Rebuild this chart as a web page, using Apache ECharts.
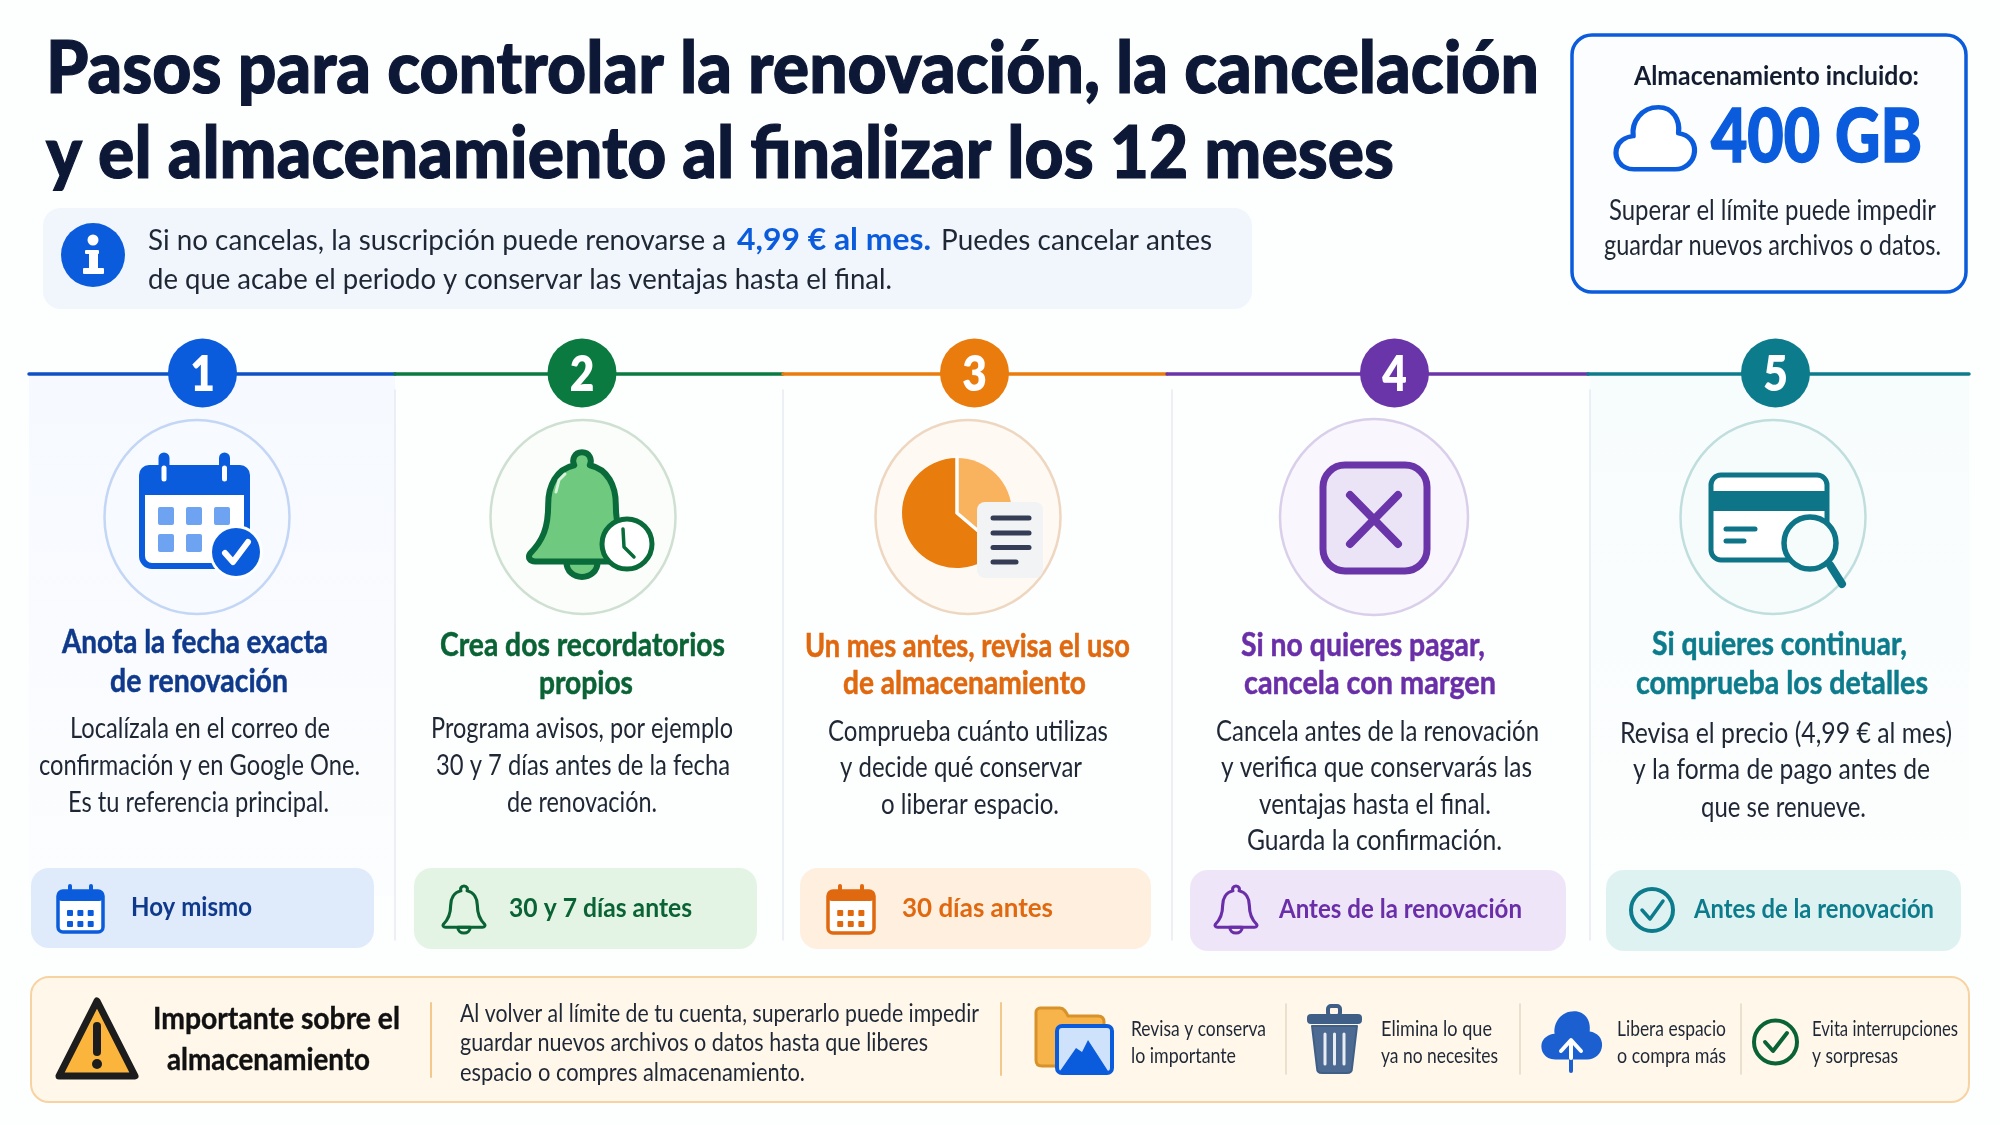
<!DOCTYPE html>
<html>
<head>
<meta charset="utf-8">
<style>html,body{margin:0;background:#fff}#main{width:2000px;height:1125px}</style>
<script src="https://cdn.jsdelivr.net/npm/echarts@6/dist/echarts.min.js"></script>
</head>
<body>
<div id="main"></div>
<script>
// texts
const titleLines = ['Pasos para controlar la renovación, la cancelación', 'y el almacenamiento al finalizar los 12 meses']
const infoParts = ['Si no cancelas, la suscripción puede renovarse a', '4,99 € al mes.', 'Puedes cancelar antes', 'de que acabe el periodo y conservar las ventajas hasta el final.']
const storageTexts = ['Almacenamiento incluido:', '400 GB', 'Superar el límite puede impedir', 'guardar nuevos archivos o datos.']
const stepNumbers = ['1', '2', '3', '4', '5']
const stepTitles = [
    ['Anota la fecha exacta', 'de renovación'],
    ['Crea dos recordatorios', 'propios'],
    ['Un mes antes, revisa el uso', 'de almacenamiento'],
    ['Si no quieres pagar,', 'cancela con margen'],
    ['Si quieres continuar,', 'comprueba los detalles']
]
const stepBodies = [
    ['Localízala en el correo de', 'confirmación y en Google One.', 'Es tu referencia principal.'],
    ['Programa avisos, por ejemplo', '30 y 7 días antes de la fecha', 'de renovación.'],
    ['Comprueba cuánto utilizas', 'y decide qué conservar', 'o liberar espacio.'],
    ['Cancela antes de la renovación', 'y verifica que conservarás las', 'ventajas hasta el final.', 'Guarda la confirmación.'],
    ['Revisa el precio (4,99 € al mes)', 'y la forma de pago antes de', 'que se renueve.']
]
const badgeLabels = ['Hoy mismo', '30 y 7 días antes', '30 días antes', 'Antes de la renovación', 'Antes de la renovación']
const noticeTitle = ['Importante sobre el', 'almacenamiento']
const noticeBody = ['Al volver al límite de tu cuenta, superarlo puede impedir', 'guardar nuevos archivos o datos hasta que liberes', 'espacio o compres almacenamiento.']
const noticeTips = [
    ['Revisa y conserva', 'lo importante'],
    ['Elimina lo que', 'ya no necesites'],
    ['Libera espacio', 'o compra más'],
    ['Evita interrupciones', 'y sorpresas']
]

// layout, in page pixels
const stepColors = ['#0d50c4', '#0a7a40', '#e97c0c', '#6a35a8', '#0c7c8c']
const titleColors = ['#0f3a8c', '#0a6335', '#e0680f', '#6a2fa8', '#0c7c8c']
const softFills = ['#dfeafb', '#e4f4e4', '#feefdf', '#eee6f8', '#dff2f2']
const lineStops = [29, 395, 783, 1167, 1588, 1969]
const numberX = [202.5, 582, 974.5, 1394.5, 1775.5]
const ringX = [197, 583, 968, 1374, 1773]
const titleSpans = [[[62, 328, 653], [110, 288, 692]], [[440, 725, 656], [539, 633, 694]], [[805, 1130, 657], [843, 1086, 694]], [[1241, 1485, 656], [1244, 1496, 694]], [[1652, 1907, 655], [1636, 1928, 694]]]
const bodySpans = [
    [[70, 330, 738], [39, 360, 775], [68, 329, 812]],
    [[431, 733, 738], [436, 730, 775], [507, 657, 812]],
    [[828, 1108, 741], [840, 1082, 777], [881, 1059, 814]],
    [[1216, 1539, 741], [1221, 1532, 777], [1259, 1491, 814], [1247, 1502, 850]],
    [[1620, 1952, 743], [1633, 1930, 779], [1701, 1866, 817]]
]
const badgeBoxes = [[31, 374, 868, 948], [414, 757, 868, 949], [800, 1151, 868, 949], [1190, 1566, 870, 951], [1606, 1961, 870, 951]]
const badgeSpans = [[131, 252, 916], [509, 692, 917], [902, 1053, 917], [1279, 1522, 918], [1694, 1934, 918]]
const tipSpans = [[[1131, 1266], [1131, 1236]], [[1381, 1492], [1381, 1498]], [[1617, 1726], [1617, 1726]], [[1812, 1958], [1812, 1898]]]

const FONT = 'Lato'
const INK = '#1f2735'
const BLUE = '#0b5cdc'
const els = []
const ctx = document.createElement('canvas').getContext('2d')

function shape(type, sh, style, extra) {
    els.push(Object.assign({ type: type, shape: sh, style: style, silent: true }, extra || {}))
}
function rect(x0, y0, x1, y1, r, fill, stroke, lw) {
    shape('rect', { x: x0, y: y0, width: x1 - x0, height: y1 - y0, r: r }, { fill: fill, stroke: stroke || null, lineWidth: lw || 0 })
}
function line(x0, y0, x1, y1, color, lw) {
    shape('line', { x1: x0, y1: y0, x2: x1, y2: y1 }, { stroke: color, lineWidth: lw, lineCap: 'round' })
}
function poly(points, color, lw) {
    shape('polyline', { points: points }, { stroke: color, lineWidth: lw, lineCap: 'round', lineJoin: 'round', fill: null })
}
function circle(cx, cy, r, fill, stroke, lw) {
    shape('circle', { cx: cx, cy: cy, r: r }, { fill: fill, stroke: stroke || null, lineWidth: lw || 0 })
}
function oval(cx, cy, rx, ry, fill, stroke, lw) {
    shape('ellipse', { cx: cx, cy: cy, rx: rx, ry: ry }, { fill: fill, stroke: stroke || null, lineWidth: lw || 0 })
}
// the graphic component has no path type, so icon outlines are registered as shapes
let pathCount = 0
function path(d, x, y, sx, sy, fill, stroke, lw) {
    const name = 'iconPath' + (pathCount++)
    echarts.graphic.registerShape(name, echarts.graphic.extendPath(d, {}))
    shape(name, {}, { fill: fill, stroke: stroke || null, lineWidth: (lw || 0) / Math.min(sx, sy), lineJoin: 'round', lineCap: 'round' }, { x: x, y: y, scaleX: sx, scaleY: sy })
}
// puts a line on its baseline and fits it between x0 and x1 like in the picture
// heavy adds a thin outline, the picture's bold is thicker than the installed one
function text(str, x0, x1, base, size, weight, color, heavy) {
    const font = weight + ' ' + size + 'px ' + FONT
    ctx.font = font
    ctx.textBaseline = 'alphabetic'
    const a = ctx.measureText(str).fontBoundingBoxAscent
    const w = ctx.measureText(str).width
    ctx.textBaseline = 'middle'
    const m = ctx.measureText(str).fontBoundingBoxAscent
    const style = { text: str, font: font, fill: color, align: 'left', verticalAlign: 'middle' }
    if (heavy) {
        style.stroke = color
        style.lineWidth = heavy
    }
    els.push({ type: 'text', x: x0, y: base - (a - m), scaleX: (x1 - x0) / w, silent: true, style: style })
}

const CLOUD = 'M25 92C8 92 2 76 4 64C6 54 14 47 24 46C22 26 34 6 54 6C72 6 80 24 78 42C90 44 98 54 97 68C96 82 86 92 74 92Z'
const BELL = 'M50 4C44 4 42 10 44 14C30 17 24 30 24 44C24 62 20 72 10 82C8 85 10 88 14 88L86 88C90 88 92 85 90 82C80 72 76 62 76 44C76 30 70 17 56 14C58 10 56 4 50 4Z'
const CLAPPER = 'M38 88C38 104 62 104 62 88Z'

function smallCalendar(x0, y0, x1, y1, color) {
    rect(x0, y0 + 5, x1, y1, 5, '#fff', color, 3.5)
    rect(x0, y0 + 5, x1, y0 + 15, 4, color)
    line(x0 + 12, y0, x0 + 12, y0 + 7, color, 4)
    line(x1 - 12, y0, x1 - 12, y0 + 7, color, 4)
    const w = x1 - x0
    for (let i = 0; i < 3; i++) for (let j = 0; j < 2; j++) {
        rect(x0 + w * 0.2 + i * w * 0.23, y0 + 24 + j * 11, x0 + w * 0.2 + i * w * 0.23 + 6, y0 + 30 + j * 11, 1, color)
    }
}
function smallBell(cx, y0, y1, color) {
    const sy = (y1 - y0) / 96, sx = sy * 1.05
    path(CLAPPER, cx - 50 * sx, y0 - 4 * sy, sx, sy, 'none', color, 3)
    path(BELL, cx - 50 * sx, y0 - 4 * sy, sx, sy, 'none', color, 3)
}

// header
rect(0, 0, 2000, 1125, 0, '#fdfefe')
text(titleLines[0], 46, 1539, 93, 72, 900, '#0d1836', 1.2)
text(titleLines[1], 46, 1394, 178, 72, 900, '#0d1836', 1.2)

rect(43, 208, 1252, 309, 18, '#f1f6fd')
circle(93, 255, 32, BLUE)
circle(93, 240, 5.5, '#fff')
rect(85, 250, 99, 254, 1, '#fff')
rect(89, 250, 98, 270, 0, '#fff')
rect(83, 268, 104, 274, 1, '#fff')
text(infoParts[0], 148, 726, 250, 29, 400, INK)
text(infoParts[1], 737, 931, 250, 30, 700, BLUE)
text(infoParts[2], 941, 1212, 250, 29, 400, INK)
text(infoParts[3], 148, 892, 289, 29, 400, INK)

rect(1572, 35, 1966, 292, 20, '#fbfdff', BLUE, 3.5)
text(storageTexts[0], 1634, 1919, 85, 27, 700, '#141c30')
path(CLOUD, 1613, 103, 0.84, 0.72, '#fff', BLUE, 4.5)
text(storageTexts[1], 1711, 1922, 162, 74, 900, BLUE, 1.5)
text(storageTexts[2], 1609, 1936, 220, 28, 400, INK)
text(storageTexts[3], 1604, 1941, 255, 28, 400, INK)

// columns tint, dividers, timeline
shape('rect', { x: 29, y: 376, width: 366, height: 520 }, { fill: new echarts.graphic.LinearGradient(0, 0, 0, 1, [{ offset: 0, color: '#f6f9ff' }, { offset: 1, color: '#fcfdfe' }]) })
shape('rect', { x: 1590, y: 376, width: 379, height: 520 }, { fill: new echarts.graphic.LinearGradient(0, 0, 0, 1, [{ offset: 0, color: '#f7fcfd' }, { offset: 1, color: '#fdfefe' }]) })
;[395, 783, 1172, 1590].forEach(x => line(x, 390, x, 940, '#e6ebf2', 1.5))
stepNumbers.forEach((n, i) => {
    line(lineStops[i], 374, lineStops[i + 1], 374, stepColors[i], 3.5)
})
stepNumbers.forEach((n, i) => {
    circle(numberX[i], 373, 34.5, i === 0 ? BLUE : stepColors[i])
    ctx.font = '800 50px ' + FONT
    const w = ctx.measureText(n).width * 0.85
    text(n, numberX[i] - w / 2, numberX[i] + w / 2, 391, 50, 800, '#fff')
})

// icon rings
const ringFills = ['#f7faff', '#fbfdfb', '#fff9f3', '#f9f6fd', '#f6fcfc']
const ringLines = ['#c3d6f5', '#cfe0d2', '#eed7c0', '#dacfea', '#c0dede']
ringX.forEach((x, i) => oval(x, 517, i === 3 ? 94 : 92.5, i === 3 ? 98 : 97, ringFills[i], ringLines[i], 2.5))

// 1 calendar
rect(142, 470, 247, 566, 10, '#fff', BLUE, 6)
rect(139, 465, 250, 495, 10, BLUE)
rect(139, 485, 250, 495, 0, BLUE)
;[164, 224.5].forEach(x => { line(x, 458, x, 480, BLUE, 11); line(x, 468, x, 479, '#fff', 5) })
;[166, 194, 222].forEach(x => [516, 543].forEach(y => {
    if (!(x === 222 && y === 543)) rect(x - 8, y - 9, x + 8, y + 9, 2, '#6ea3f2')
}))
circle(236, 552, 27, '#fff')
circle(236, 552, 24, BLUE)
poly([[225, 553], [233, 562], [248, 542]], '#fff', 6)

// 2 bell with clock
path(CLAPPER, 517, 447, 1.3, 1.3, '#6fc97f', '#0a6b3a', 6)
path(BELL, 517, 447, 1.3, 1.3, '#6fc97f', '#0a6b3a', 6)
poly([[556, 492], [559, 480], [565, 474]], '#d8f2dc', 3)
circle(627, 544, 25, '#fff', '#0a6b3a', 5)
poly([[623, 529], [624, 547], [634, 557]], '#0a6b3a', 3.5)

// 3 pie and document
shape('sector', { cx: 957, cy: 513, r0: 0, r: 55, startAngle: -Math.PI / 2, endAngle: Math.PI * 40 / 180, clockwise: true }, { fill: '#f9b25e' })
shape('sector', { cx: 957, cy: 513, r0: 0, r: 55, startAngle: Math.PI * 40 / 180, endAngle: Math.PI * 1.5, clockwise: true }, { fill: '#e87c0c' })
poly([[957, 457], [957, 513], [990, 541]], '#fff', 3.5)
rect(977, 502, 1043, 578, 8, '#f1f3f5')
;[518, 533, 547.5].forEach(y => line(993, y, 1029, y, '#343d55', 5))
line(993, 562, 1016, 562, '#343d55', 5)

// 4 cancel box
rect(1323, 465, 1427, 571, 22, '#ebe4f7', '#6a35a8', 7)
line(1350, 495, 1398, 544, '#6a35a8', 8)
line(1398, 495, 1350, 544, '#6a35a8', 8)

// 5 card and magnifier
rect(1711, 475, 1827, 560, 10, '#fff', '#0e7488', 5)
rect(1709, 491, 1829, 511, 0, '#0e7488')
line(1726, 529, 1755, 529, '#0e7488', 5)
line(1726, 541, 1744, 541, '#0e7488', 5)
circle(1810, 543, 26, '#f6fcfc', '#0e7488', 5.5)
line(1830, 565, 1842, 584, '#0e7488', 8)

// step texts
stepTitles.forEach((lines, i) => lines.forEach((s, j) => {
    const b = titleSpans[i][j]
    text(s, b[0], b[1], b[2], 32, 700, titleColors[i], 0.5)
}))
stepBodies.forEach((lines, i) => lines.forEach((s, j) => {
    const b = bodySpans[i][j]
    text(s, b[0], b[1], b[2], 28, 400, INK)
}))

// badges
badgeLabels.forEach((s, i) => {
    const b = badgeBoxes[i], sp = badgeSpans[i]
    rect(b[0], b[2], b[1], b[3], 18, softFills[i])
    text(s, sp[0], sp[1], sp[2], 27, 700, titleColors[i])
})
smallCalendar(58, 886, 103, 932, BLUE)
smallBell(464, 886, 933, titleColors[1])
smallCalendar(828, 886, 874, 933, titleColors[2])
smallBell(1236, 886, 933, titleColors[3])
circle(1652, 910, 21, 'none', titleColors[4], 4)
poly([[1642, 910], [1650, 919], [1663, 901]], titleColors[4], 3.5)

// notice panel
rect(31, 977, 1969, 1102, 18, '#fef7ea', '#f7d3a2', 2)
shape('polygon', { points: [[97, 1001], [135, 1076], [59, 1076]] }, { fill: '#fbb53c', stroke: '#1d1d1d', lineWidth: 7, lineJoin: 'round' })
line(97, 1026, 97, 1052, '#1d1d1d', 8)
circle(97, 1064, 5, '#1d1d1d')
text(noticeTitle[0], 153, 400, 1029, 31, 700, '#111', 0.4)
text(noticeTitle[1], 167, 370, 1070, 31, 700, '#111', 0.4)
line(431, 1003, 431, 1077, '#f2c88c', 2)
text(noticeBody[0], 460, 979, 1022, 25, 400, INK)
text(noticeBody[1], 460, 928, 1051, 25, 400, INK)
text(noticeBody[2], 460, 805, 1081, 25, 400, INK)
line(1001, 1003, 1001, 1075, '#f2c88c', 2)

// folder with photo
path('M1040 1008L1060 1008C1064 1008 1066 1012 1068 1016L1098 1016C1102 1016 1104 1018 1104 1022L1104 1066L1042 1066C1038 1066 1036 1064 1036 1060L1036 1012C1036 1010 1038 1008 1040 1008Z', 0, 0, 1, 1, '#f6b44a', '#d8922a', 3)
rect(1057, 1026, 1112, 1073, 5, '#cfe2fb', BLUE, 4)
shape('polygon', { points: [[1060, 1071], [1076, 1048], [1082, 1052], [1088, 1040], [1108, 1071]] }, { fill: BLUE })

// trash can
rect(1328, 1006, 1340, 1016, 3, 'none', '#3f5f86', 4)
rect(1307, 1014, 1362, 1024, 4, '#3f5f86')
path('M1312 1026L1357 1026L1352 1068C1352 1071 1350 1073 1347 1073L1322 1073C1319 1073 1317 1071 1317 1068Z', 0, 0, 1, 1, '#4d6a92', '#3f5f86', 2)
;[1325, 1334.5, 1344].forEach(x => line(x, 1034, x, 1064, '#e8edf4', 3))

// cloud with arrow
path(CLOUD, 1539, 1008, 0.65, 0.56, '#1c5fd0')
line(1571, 1060, 1571, 1071, '#1c5fd0', 4)
line(1571, 1044, 1571, 1058, '#fff', 4)
poly([[1561, 1051], [1571, 1040], [1581, 1051]], '#fff', 4)

// check
circle(1775.5, 1042, 21.5, 'none', '#0a6335', 4)
poly([[1765, 1042], [1773, 1051], [1787, 1033]], '#0a6335', 4)

;[1286, 1520, 1741].forEach(x => line(x, 1004, x, 1074, '#e4d8c4', 1.5))
noticeTips.forEach((lines, i) => lines.forEach((s, j) => {
    const b = tipSpans[i][j]
    text(s, b[0], b[1], j === 0 ? 1036 : 1063, 21, 400, INK)
}))

const myChart = echarts.init(document.getElementById('main'), null, { renderer: 'canvas' })
myChart.setOption({ animation: false, graphic: { elements: els } })
</script>
</body>
</html>
